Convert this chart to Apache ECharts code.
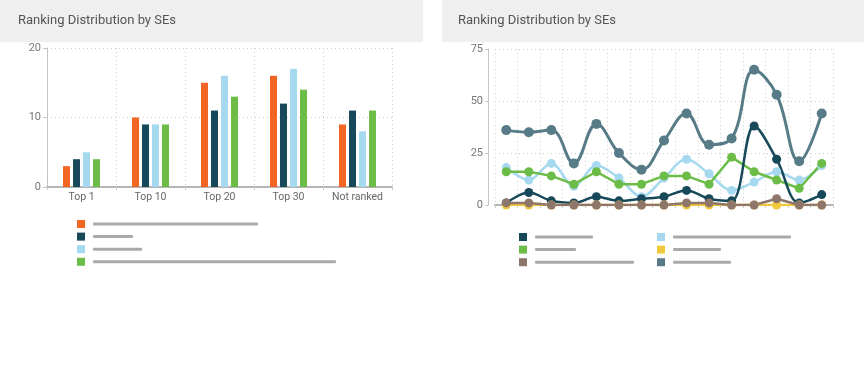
<!DOCTYPE html>
<html><head><meta charset="utf-8">
<script src="https://cdn.jsdelivr.net/npm/echarts@6/dist/echarts.min.js"></script>
<style>html,body{margin:0;padding:0;background:#fff}#c{width:864px;height:371px}</style>
</head><body><div id="c"></div>
<script>
// ---- data ----
const titleText = 'Ranking Distribution by SEs';
const barCategories = ['Top 1', 'Top 10', 'Top 20', 'Top 30', 'Not ranked'];
const barSeriesNames = ['SE A', 'SE B', 'SE C', 'SE D'];
const barA = [3, 10, 15, 16, 9];
const barB = [4, 9, 11, 12, 11];
const barC = [5, 9, 16, 17, 8];
const barD = [4, 9, 13, 14, 11];
const barYTicks = [0, 10, 20];

const lineCategories = ['1','2','3','4','5','6','7','8','9','10','11','12','13','14','15'];
const lineNames = ['L1', 'L2', 'L3', 'L4', 'L5', 'L6'];
const lineNavy  = [1, 6, 2, 1, 4, 2, 3, 4, 7, 3, 2, 38, 22, 1, 5];
const lineLight = [18, 12, 20, 9, 19, 13, 4, 13, 22, 15, 7, 11, 16, 12, 19];
const lineGreen = [16, 16, 14, 10, 16, 10, 10, 14, 14, 10, 23, 16, 12, 8, 20];
const lineYellow= [0, 0, 0, 0, 0, 0, 0, 0, 0, 0, 0, 0, 0, 0, 0];
const lineBrown = [1, 1, 0, 0, 0, 0, 0, 0, 1, 1, 0, 0, 3, 0, 0];
const lineSlate = [36, 35, 36, 20, 39, 25, 17, 31, 44, 29, 32, 65, 53, 21, 44];
const lineYTicks = [0, 25, 50, 75];

// ---- styles ----
const C = {orange:'#f26522', navy:'#17495a', light:'#a6d8f0', green:'#6cbd47', yellow:'#f2c93c', brown:'#8e766b', slate:'#587c87'};
const legendBarWidth = {'SE A':165,'SE B':40,'SE C':49,'SE D':243,'L1':58,'L2':118,'L3':41,'L4':48,'L5':99,'L6':58};
const chart = echarts.init(document.getElementById('c'), null, {renderer:'canvas'});
const axisLbl = {color:'#777', fontSize:11, fontFamily:'Roboto'};
const dotted = {lineStyle:{type:[1,3], color:'#cfcfcf', width:1}};
const legendCommon = {
  icon:'rect', itemWidth:8, itemHeight:8,
  formatter: n => '{s| }{b| }',
  selectedMode:false
};
function legendFor(names, left, top){
  return names.map((n,i)=>({
    ...legendCommon, left:left, top: top + i*12.6, data:[n], orient:'horizontal',
    textStyle:{ fontSize:8, rich:{ s:{width:3, height:3}, b:{width:legendBarWidth[n], height:3, backgroundColor:'#aaaaaa', borderRadius:1} } }
  }));
}
function barSeries(name, data, color){
  return {name, type:'bar', xAxisIndex:0, yAxisIndex:0, data, barWidth:7, barGap:'43%', itemStyle:{color}, silent:true};
}
function lineSeries(name, data, color, smooth, width, size){
  return {name, type:'line', xAxisIndex:1, yAxisIndex:1, data, smooth:smooth, symbol:'circle', symbolSize:size||9,
    lineStyle:{color, width:width||2.5}, itemStyle:{color}, silent:true};
}

const option = {
  animation:false,
  graphic:[
    {type:'rect', shape:{x:0,y:0,width:423,height:42}, style:{fill:'#efefef'}, silent:true},
    {type:'rect', shape:{x:442,y:0,width:422,height:42}, style:{fill:'#efefef'}, silent:true}
  ],
  title:[
    {text:titleText, left:13, top:9, textStyle:{fontSize:13, fontWeight:'normal', color:'#555', fontFamily:'Roboto'}},
    {text:titleText, left:453, top:9, textStyle:{fontSize:13, fontWeight:'normal', color:'#555', fontFamily:'Roboto'}}
  ],
  legend: [].concat(
    legendFor(barSeriesNames, 72, 215),
    legendFor(['L1','L3','L5'], 514, 228),
    legendFor(['L2','L4','L6'], 652, 228)
  ),
  grid:[
    {left:47, top:48, width:345, height:139},
    {left:495, top:49, width:338, height:156}
  ],
  xAxis:[
    {gridIndex:0, type:'category', data:barCategories, boundaryGap:true,
     axisLine:{lineStyle:{color:'#b5b5b5', width:2}}, axisTick:{show:true, length:3, lineStyle:{color:'#ccc'}},
     axisLabel:{...axisLbl, color:'#666', fontSize:10.5, margin:5},
     splitLine:{show:true, ...dotted}},
    {gridIndex:1, type:'category', data:lineCategories, boundaryGap:true, offset:5,
     axisLine:{lineStyle:{color:'#b5b5b5', width:2}}, axisTick:{show:true, length:3, lineStyle:{color:'#ccc'}},
     axisLabel:{show:false},
     splitLine:{show:true, ...dotted}}
  ],
  yAxis:[
    {gridIndex:0, type:'value', min:barYTicks[0], max:barYTicks[barYTicks.length-1], interval:barYTicks[1]-barYTicks[0],
     axisLine:{show:true, lineStyle:{color:'#c5c5c5', width:1}}, axisTick:{show:true, length:4, lineStyle:{color:'#c5c5c5'}},
     axisLabel:{...axisLbl, margin:6}, splitLine:{show:true, ...dotted}},
    {gridIndex:1, type:'value', min:lineYTicks[0], max:lineYTicks[lineYTicks.length-1], interval:lineYTicks[1]-lineYTicks[0], offset:7,
     axisLine:{show:true, lineStyle:{color:'#c5c5c5', width:1}}, axisTick:{show:true, length:3, lineStyle:{color:'#c5c5c5'}},
     axisLabel:{...axisLbl, margin:5}, splitLine:{show:true, ...dotted}}
  ],
  series:[
    barSeries('SE A', barA, C.orange),
    barSeries('SE B', barB, C.navy),
    barSeries('SE C', barC, C.light),
    barSeries('SE D', barD, C.green),
    lineSeries('L2', lineLight, C.light, 0.35, 2.5, 9),
    lineSeries('L3', lineGreen, C.green, false, 2.5, 9),
    lineSeries('L1', lineNavy, C.navy, 0.35, 2.5, 9),
    lineSeries('L4', lineYellow, C.yellow, false, 2.5, 9),
    lineSeries('L5', lineBrown, C.brown, false, 2.5, 9),
    lineSeries('L6', lineSlate, C.slate, 0.4, 3, 10)
  ]
};
chart.setOption(option);
</script></body></html>
